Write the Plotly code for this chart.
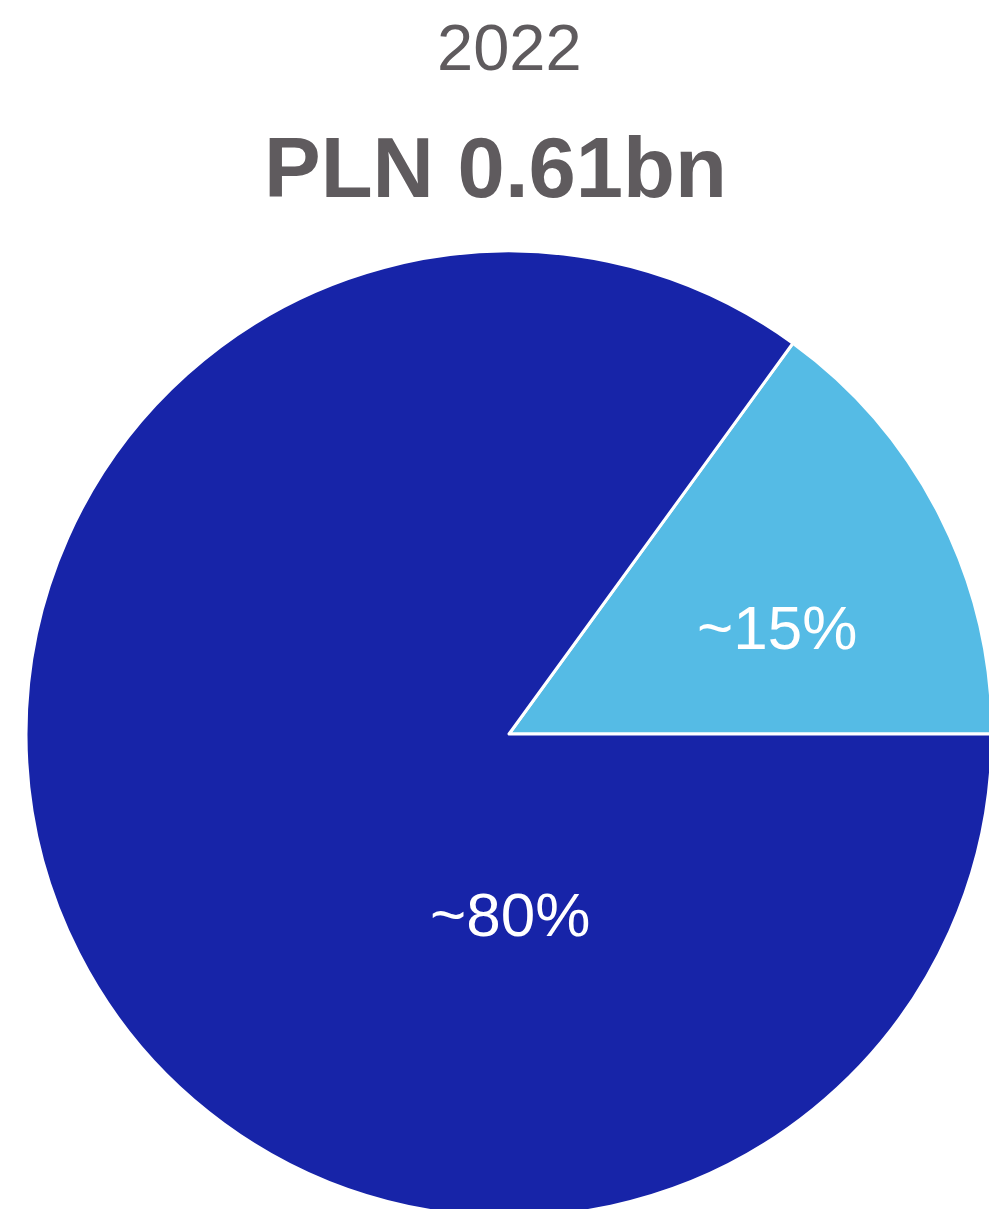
import plotly.graph_objects as go

# Data
segments = ["Segment A", "Segment B"]
shares = [15, 85]
share_labels = ["~15%", "~80%"]
year_label = "2022"
total_label = "PLN 0.61bn"

colors = ["#55BBE5", "#1724A8"]
text_gray = "#5F5B5E"

W, H = 992, 1222
L, T = 26, 251
PW = W - L          # plot width (square plot area)
B = H - T - PW

def px_to_paper(x, y):
    return (x - L) / PW, (H - B - y) / PW

fig = go.Figure()
fig.add_trace(go.Pie(
    labels=segments,
    values=shares,
    sort=False,
    direction="clockwise",
    rotation=36,
    marker=dict(colors=colors, line=dict(color="white", width=3)),
    textinfo="none",
    hoverinfo="skip",
    showlegend=False,
    domain=dict(x=[0, 1], y=[0, 1]),
))

annots = []
# label positions (pixel centres in the layout)
label_pos = [(777, 627), (510, 914)]
for txt, (lx, ly) in zip(share_labels, label_pos):
    xp, yp = px_to_paper(lx, ly)
    annots.append(dict(text=txt, x=xp, y=yp, xref="paper", yref="paper",
                       showarrow=False, xanchor="center", yanchor="middle",
                       font=dict(family="Liberation Sans, Arial", size=62, color="white")))

xp, yp = px_to_paper(509, 47)
annots.append(dict(text=year_label, x=xp, y=yp, xref="paper", yref="paper",
                   showarrow=False, xanchor="center", yanchor="middle",
                   font=dict(family="Liberation Sans, Arial", size=65, color=text_gray)))
xp, yp = px_to_paper(495, 167)
annots.append(dict(text="<b>" + total_label + "</b>", x=xp, y=yp, xref="paper", yref="paper",
                   showarrow=False, xanchor="center", yanchor="middle",
                   font=dict(family="Liberation Sans, Arial", size=85, color=text_gray)))

fig.update_layout(
    width=W, height=H,
    margin=dict(l=L, r=0, t=T, b=B, pad=0),
    paper_bgcolor="white",
    plot_bgcolor="white",
    annotations=annots,
    showlegend=False,
)

fig.write_html(
    "out.html",
    config={"displayModeBar": False},
    post_script="document.body.style.margin='0';document.body.style.overflow='hidden';document.documentElement.style.overflow='hidden';",
)
